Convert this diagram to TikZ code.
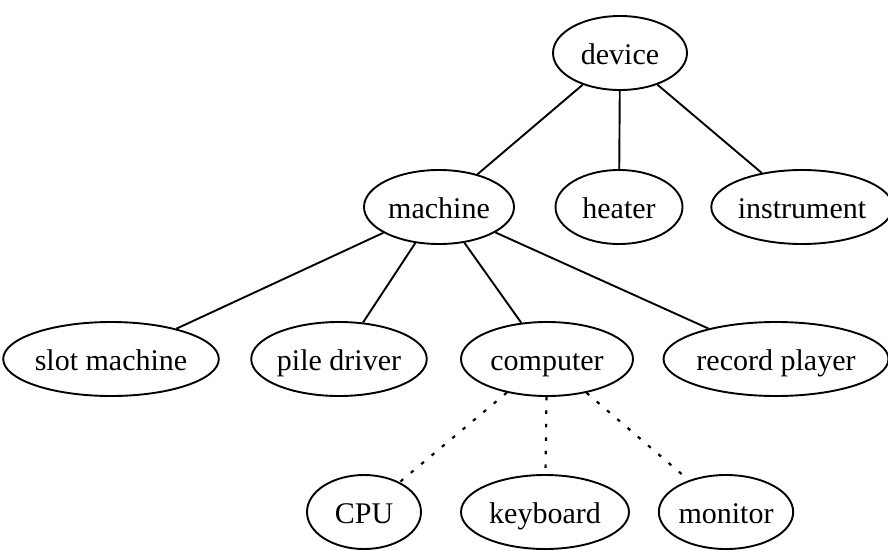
\documentclass[tikz,border=0pt]{standalone}
\usepackage{fontspec}
\setmainfont{Liberation Serif}
\usetikzlibrary{shapes.geometric}
\begin{document}
\begin{tikzpicture}[x=1pt,y=-1pt,
  nd/.style={draw, ellipse, line width=1.9pt, inner sep=0pt, minimum height=74pt,
    text height=26pt, text depth=4pt, font=\fontsize{30}{32}\selectfont},
  ed/.style={line width=1.9pt},
  dt/.style={line width=2.2pt, dash pattern=on 3.5pt off 10pt}]
\useasboundingbox (0,0) rectangle (888,549);
\node[nd, minimum width=134pt] (device) at (620,53) {device};
\node[nd, minimum width=150pt] (machine) at (439,207) {machine};
\node[nd, minimum width=127pt] (heater) at (619,207) {heater};
\node[nd, minimum width=170pt] (instrument) at (802,207) {instrument};
\node[nd, minimum width=204pt] (slot) at (111,359) {slot machine};
\node[nd, minimum width=172pt] (pile) at (339,359) {pile driver};
\node[nd, minimum width=172pt] (computer) at (547,359) {computer};
\node[nd, minimum width=222pt] (record) at (776,359) {record player};
\node[nd, minimum width=114pt] (cpu) at (364,512) {CPU};
\node[nd, minimum width=168pt] (keyboard) at (545,512) {keyboard};
\node[nd, minimum width=122pt] (monitor) at (726,512) {monitor};
\draw[ed] (device) -- (machine);
\draw[ed] (device) -- (heater);
\draw[ed] (device) -- (instrument);
\draw[ed] (machine) -- (slot);
\draw[ed] (machine) -- (pile);
\draw[ed] (machine) -- (computer);
\draw[ed] (machine) -- (record);
\draw[dt] (computer) -- (cpu);
\draw[dt] (computer) -- (keyboard);
\draw[dt] (computer) -- (monitor);
\end{tikzpicture}
\end{document}
